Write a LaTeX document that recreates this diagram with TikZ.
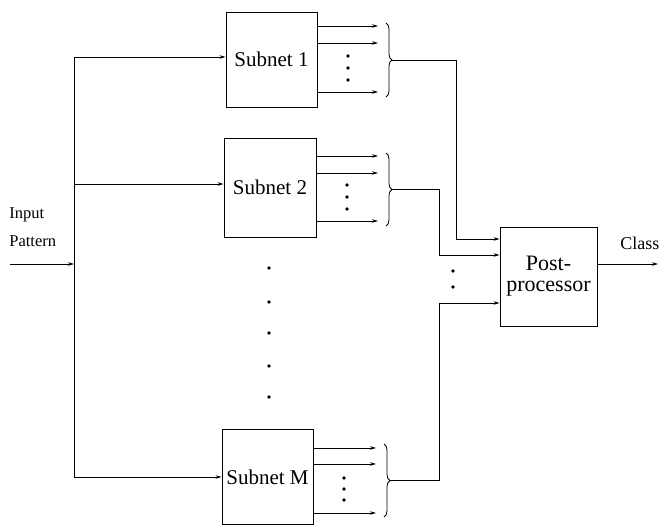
\documentclass[tikz,border=0pt]{standalone}
\usepackage{fontspec}
\setmainfont{Liberation Serif}
\usetikzlibrary{arrows.meta,decorations.pathreplacing}
\begin{document}
\begin{tikzpicture}[x=1pt,y=-1pt,
  line width=0.8pt,
  box/.style={draw,line width=0.9pt,minimum width=91pt,minimum height=95pt,inner sep=0pt,font=\fontsize{21}{23}\selectfont},
  arr/.style={-{Stealth[length=6pt,width=3.5pt]}},
  dotmark/.style={circle,fill,inner sep=0pt,minimum size=3.6pt},
  lbl/.style={font=\fontsize{16.5}{18}\selectfont,inner sep=0pt,anchor=west},
  brc/.style={decorate,decoration={brace,amplitude=6pt,raise=0pt}}
]
\useasboundingbox (0,0) rectangle (661,526);

% subnet boxes
\node[box] (s1) at (271.5,59.5) {Subnet 1};
\node[box,minimum width=92pt,minimum height=99pt] (s2) at (270,187.5) {Subnet 2};
\node[box] (sm) at (267.5,477) {Subnet M};
\node[box,minimum width=97pt,minimum height=99pt,align=center,font=\fontsize{22}{21}\selectfont] (pp) at (548.5,276.5) {Post-\\processor};

% input
\node[lbl] (lin) at (9,215) {Input};
\node[lbl] (lpat) at (9,241) {Pattern};
\coordinate (inS) at (10,264);
\coordinate (busT) at (74,57);
\coordinate (busB) at (74,477);
\draw (busT) -- (busB);
\draw[arr] (inS) -- (74,264);
\draw[arr] (busT) -- (s1.west |- busT);
\draw[arr] (74,184) -- (s2.west |- 0,184);
\draw[arr] (busB) -- (sm.west |- busB);

% outputs subnet 1
\foreach \y in {26,43,92} \draw[arr] (s1.east |- 0,\y) -- (378,\y);
\foreach \y in {56,68,80} \node[dotmark] at (348,\y) {};
\draw[brc] (386,23) -- (386,97);
\coordinate (b1) at (392,60);

% outputs subnet 2
\foreach \y in {156,173,221} \draw[arr] (s2.east |- 0,\y) -- (378,\y);
\foreach \y in {185,197,209} \node[dotmark] at (347,\y) {};
\draw[brc] (386,153) -- (386,226);
\coordinate (b2) at (392,189);

% outputs subnet M
\foreach \y in {448,464,513} \draw[arr] (sm.east |- 0,\y) -- (376,\y);
\foreach \y in {478,489,500} \node[dotmark] at (344,\y) {};
\draw[brc] (384,444) -- (384,517);
\coordinate (bm) at (390,480);

% vertical dots between subnets
\foreach \y in {268,302,333,366,397} \node[dotmark] at (269,\y) {};

% to post-processor
\draw[arr] (b1) -- (456,60) |- (pp.west |- 0,239);
\draw[arr] (b2) -- (439,189) |- (pp.west |- 0,255);
\draw[arr] (bm) -- (439,480) |- (pp.west |- 0,303);
\foreach \y in {271,287} \node[dotmark] at (453,\y) {};

% output
\coordinate (out) at (658,264);
\draw[arr] (pp.east |- out) -- (out);
\node[lbl,font=\fontsize{18}{20}\selectfont] (lcls) at (620,243) {Class};
\end{tikzpicture}
\end{document}
